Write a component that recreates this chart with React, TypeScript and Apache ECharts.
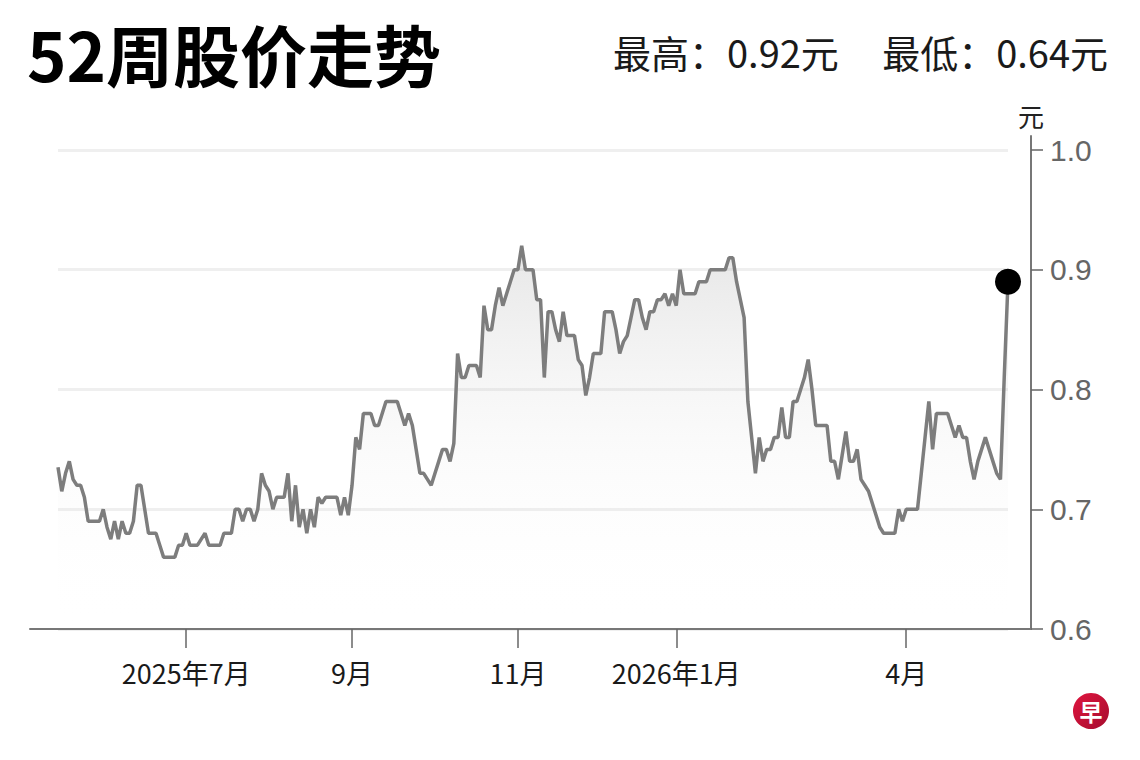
import React, { useEffect, useRef } from "react";
import * as echarts from "echarts";

// Trading calendar (SGX) for the 52-week window
const START_DATE = "2025-05-14";
const END_DATE = "2026-05-12";
const HOLIDAYS = [
  "2025-10-20",
  "2025-12-25",
  "2026-01-01",
  "2026-02-17",
  "2026-02-18",
  "2026-04-03",
  "2026-05-01",
];

// Month ticks shown on the x axis and their labels
const TICK_MONTHS = ["2025-07", "2025-09", "2025-11", "2026-01", "2026-04"];
const TICK_LABELS = ["2025年7月", "9月", "11月", "2026年1月", "4月"];

// Y axis ticks
const Y_MIN = 0.6;
const Y_MAX = 1.0;
const Y_STEP = 0.1;

// Closing prices (元), one per trading day
const PRICES = [
  0.735, 0.715, 0.73, 0.74, 0.725, 0.72, 0.72, 0.71, 0.69, 0.69,
  0.69, 0.69, 0.70, 0.685, 0.675, 0.69, 0.675, 0.69, 0.68, 0.68,
  0.69, 0.72, 0.72, 0.70, 0.68, 0.68, 0.68, 0.67, 0.66, 0.66,
  0.66, 0.66, 0.67, 0.67, 0.68, 0.67, 0.67, 0.67, 0.675, 0.68,
  0.67, 0.67, 0.67, 0.67, 0.68, 0.68, 0.68, 0.70, 0.70, 0.69,
  0.70, 0.70, 0.69, 0.70, 0.73, 0.72, 0.715, 0.70, 0.71, 0.71,
  0.71, 0.73, 0.69, 0.72, 0.685, 0.70, 0.68, 0.70, 0.685, 0.71,
  0.705, 0.71, 0.71, 0.71, 0.71, 0.695, 0.71, 0.695, 0.72, 0.76,
  0.75, 0.78, 0.78, 0.78, 0.77, 0.77, 0.78, 0.79, 0.79, 0.79,
  0.79, 0.78, 0.77, 0.78, 0.77, 0.75, 0.73, 0.73, 0.725, 0.72,
  0.73, 0.74, 0.75, 0.75, 0.74, 0.755, 0.83, 0.81, 0.81, 0.82,
  0.82, 0.82, 0.81, 0.87, 0.85, 0.85, 0.87, 0.885, 0.87, 0.88,
  0.89, 0.90, 0.90, 0.92, 0.90, 0.90, 0.90, 0.875, 0.875, 0.81,
  0.865, 0.865, 0.85, 0.84, 0.865, 0.845, 0.845, 0.845, 0.825, 0.82,
  0.795, 0.81, 0.83, 0.83, 0.83, 0.865, 0.865, 0.865, 0.85, 0.83,
  0.84, 0.845, 0.86, 0.875, 0.875, 0.86, 0.85, 0.865, 0.865, 0.875,
  0.875, 0.88, 0.87, 0.88, 0.87, 0.90, 0.88, 0.88, 0.88, 0.88,
  0.89, 0.89, 0.89, 0.90, 0.90, 0.90, 0.90, 0.90, 0.91, 0.91,
  0.89, 0.875, 0.86, 0.79, 0.76, 0.73, 0.76, 0.74, 0.75, 0.75,
  0.76, 0.76, 0.785, 0.76, 0.76, 0.79, 0.79, 0.80, 0.81, 0.825,
  0.80, 0.77, 0.77, 0.77, 0.77, 0.74, 0.74, 0.725, 0.745, 0.765,
  0.74, 0.74, 0.75, 0.725, 0.72, 0.715, 0.705, 0.695, 0.685, 0.68,
  0.68, 0.68, 0.68, 0.70, 0.69, 0.70, 0.70, 0.70, 0.70, 0.73,
  0.76, 0.79, 0.75, 0.78, 0.78, 0.78, 0.78, 0.77, 0.76, 0.77,
  0.76, 0.76, 0.74, 0.725, 0.74, 0.75, 0.76, 0.75, 0.74, 0.73,
  0.725, 0.81, 0.89,
];

const TITLE = "52周股价走势";
const HIGH_TEXT = "最高：0.92元";
const LOW_TEXT = "最低：0.64元";
const Y_UNIT = "元";
const LOGO_CHAR = "早";

function tradingDays(start: string, end: string, holidays: string[]): string[] {
  const out: string[] = [];
  const hol = new Set(holidays);
  const d = new Date(start + "T00:00:00Z");
  const e = new Date(end + "T00:00:00Z");
  while (d.getTime() <= e.getTime()) {
    const wd = d.getUTCDay();
    const iso = d.toISOString().slice(0, 10);
    if (wd !== 0 && wd !== 6 && !hol.has(iso)) out.push(iso);
    d.setUTCDate(d.getUTCDate() + 1);
  }
  return out;
}

export default function App() {
  const ref = useRef<HTMLDivElement>(null);

  useEffect(() => {
    document.body.style.margin = "0";
    if (!ref.current) return;
    const chart = echarts.init(ref.current, undefined, { renderer: "svg" });

    const dates = tradingDays(START_DATE, END_DATE, HOLIDAYS);
    const tickLabelAt: Record<number, string> = {};
    dates.forEach((dt, i) => {
      const m = dt.slice(0, 7);
      const prev = i > 0 ? dates[i - 1].slice(0, 7) : "";
      const k = TICK_MONTHS.indexOf(m);
      if (m !== prev && k >= 0) tickLabelAt[i] = TICK_LABELS[k];
    });
    const isTick = (idx: number) => tickLabelAt[idx] !== undefined;
    const last = PRICES.length - 1;

    const font = '"Noto Sans CJK SC", "Noto Sans", sans-serif';

    chart.setOption({
      animation: false,
      backgroundColor: "#ffffff",
      grid: [
        { left: 58, right: 132, top: 150, bottom: 131 },
        { left: 30, right: 109, top: 136, bottom: 131 },
      ],
      xAxis: [
        {
          gridIndex: 0,
          type: "category",
          data: dates.slice(0, PRICES.length),
          boundaryGap: false,
          axisLine: { show: false },
          axisTick: {
            show: true,
            interval: (idx: number) => isTick(idx),
            length: 19,
            lineStyle: { color: "#666", width: 1.5 },
          },
          axisLabel: {
            interval: (idx: number) => isTick(idx),
            formatter: (_v: string, idx: number) => tickLabelAt[idx] || "",
            margin: 30,
            color: "#1a1a1a",
            fontSize: 27,
            fontFamily: font,
          },
          splitLine: { show: false },
        },
        {
          gridIndex: 1,
          type: "value",
          min: 0,
          max: 1,
          axisLine: { show: true, onZero: false, lineStyle: { color: "#777", width: 2 } },
          axisTick: { show: false },
          axisLabel: { show: false },
          splitLine: { show: false },
        },
      ],
      yAxis: [
        {
          gridIndex: 0,
          type: "value",
          min: Y_MIN,
          max: Y_MAX,
          interval: Y_STEP,
          position: "right",
          offset: 23,
          axisLine: { show: false },
          axisTick: { show: true, length: 12, lineStyle: { color: "#666", width: 1.5 } },
          axisLabel: {
            color: "#666",
            fontSize: 30,
            margin: 19,
            fontFamily: '"Liberation Sans", Arial, sans-serif',
            formatter: (v: number) => v.toFixed(1),
          },
          splitLine: { show: true, lineStyle: { color: "#efefef", width: 3 } },
          name: Y_UNIT,
          nameLocation: "end",
          nameGap: 22,
          nameTextStyle: { color: "#222", fontSize: 26, fontFamily: font, align: "center" },
        },
        {
          gridIndex: 1,
          type: "value",
          min: 0,
          max: 1,
          position: "right",
          axisLine: { show: true, onZero: false, lineStyle: { color: "#777", width: 2 } },
          axisTick: { show: false },
          axisLabel: { show: false },
          splitLine: { show: false },
        },
      ],
      series: [
        {
          type: "line",
          xAxisIndex: 0,
          yAxisIndex: 0,
          data: PRICES,
          showAllSymbol: true,
          symbol: (_v: any, p: any) => (p.dataIndex === last ? "circle" : "none"),
          symbolSize: 26,
          itemStyle: { color: "#000" },
          lineStyle: { color: "#7d7d7d", width: 3.5 },
          areaStyle: {
            color: new echarts.graphic.LinearGradient(0, 0, 0, 1, [
              { offset: 0, color: "rgba(150,150,150,0.33)" },
              { offset: 0.55, color: "rgba(200,200,200,0.1)" },
              { offset: 1, color: "rgba(255,255,255,0)" },
            ]),
          },
          z: 5,
        },
      ],
      graphic: [
        {
          type: "text",
          left: 27,
          top: 19,
          style: {
            text: TITLE,
            fill: "#000",
            font: `bold 67px ${font}`,
          },
        },
        {
          type: "text",
          left: 613,
          top: 32,
          style: { text: HIGH_TEXT, fill: "#1a1a1a", font: `38px ${font}` },
        },
        {
          type: "text",
          right: 32,
          top: 32,
          style: { text: LOW_TEXT, fill: "#1a1a1a", font: `38px ${font}` },
        },
        {
          type: "circle",
          shape: { cx: 1091, cy: 711, r: 18 },
          style: {
            fill: new echarts.graphic.LinearGradient(0, 0, 1, 1, [
              { offset: 0, color: "#e0153f" },
              { offset: 1, color: "#a50d2e" },
            ]),
          },
        },
        {
          type: "text",
          x: 1091,
          y: 711,
          style: {
            text: LOGO_CHAR,
            fill: "#fff",
            font: `bold 23px ${font}`,
            textAlign: "center",
            textVerticalAlign: "middle",
          },
        },
      ],
    });

    return () => chart.dispose();
  }, []);

  return <div ref={ref} style={{ width: 1140, height: 760 }} />;
}
